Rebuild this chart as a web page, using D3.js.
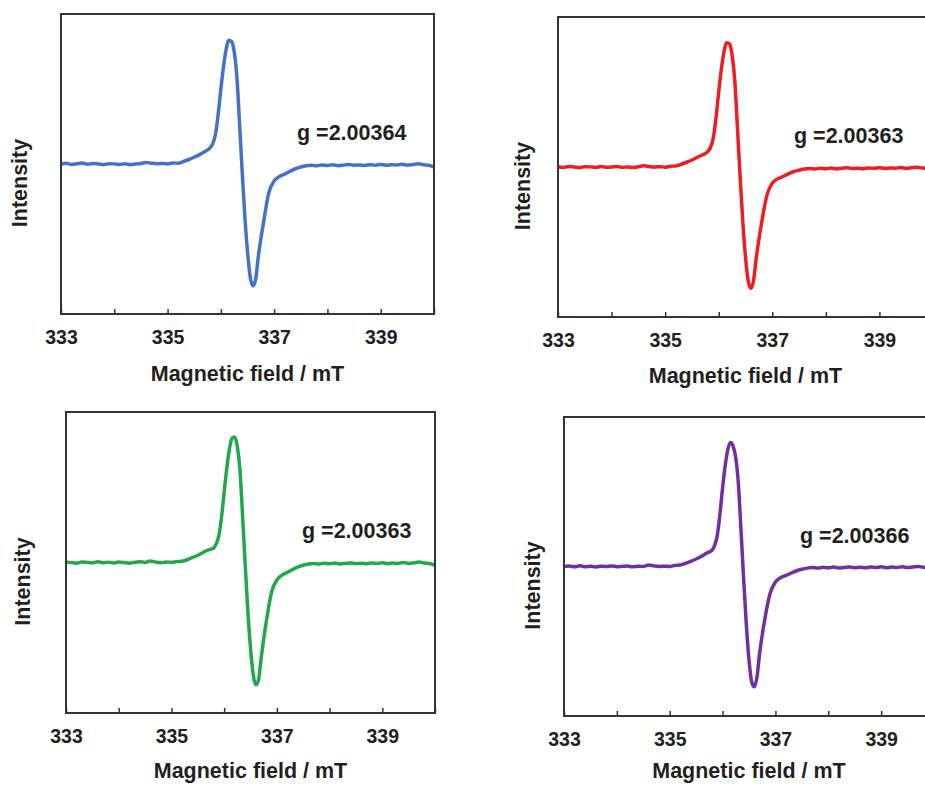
<!DOCTYPE html>
<html>
<head>
<meta charset="utf-8">
<script src="https://cdn.jsdelivr.net/npm/d3@7"></script>
<style>
  body { margin: 0; background: #fff; }
  svg text { font-family: "Liberation Sans", Arial, sans-serif; font-weight: bold; fill: #231f20; }
</style>
</head>
<body>
<svg id="eprSvg" width="925" height="785"></svg>
<script>
// magnetic field (mT), shared by all four spectra
const field = [
  333.0, 333.1, 333.2, 333.3, 333.4, 333.5, 333.6, 333.7, 333.8, 333.9,
  334.0, 334.1, 334.2, 334.3, 334.4, 334.5, 334.6, 334.7, 334.8, 334.9,
  335.0, 335.1, 335.2, 335.3, 335.4, 335.5, 335.6, 335.7,
  335.8, 335.85, 335.9, 335.95, 336.0, 336.05, 336.1, 336.15, 336.2, 336.25,
  336.3, 336.35, 336.4, 336.45, 336.5, 336.55, 336.6, 336.65, 336.7, 336.75, 336.8,
  336.9, 337.0, 337.1, 337.2, 337.3, 337.4, 337.5, 337.6, 337.7, 337.8, 337.9,
  338.0, 338.1, 338.2, 338.3, 338.4, 338.5, 338.6, 338.7, 338.8, 338.9,
  339.0, 339.1, 339.2, 339.3, 339.4, 339.5, 339.6, 339.7, 339.8, 339.9, 340.0
];

// first-derivative EPR signal, baseline = 0, arbitrary units
const blueSignal = [
  0.000, 0.006, -0.004, 0.002, 0.008, -0.002, 0.004, 0.000, -0.005, 0.003,
  0.001, -0.004, 0.002, -0.006, 0.000, 0.004, 0.013, 0.006, 0.002, 0.005,
  0.001, 0.008, 0.006, 0.020, 0.036, 0.054, 0.075, 0.100,
  0.130, 0.165, 0.240, 0.400, 0.600, 0.780, 0.920, 0.990, 0.980, 0.900,
  0.700, 0.330, -0.060, -0.420, -0.700, -0.900, -0.975, -0.930, -0.750, -0.600, -0.470,
  -0.230, -0.135, -0.100, -0.080, -0.058, -0.038, -0.024, -0.014, -0.010, -0.014, -0.008,
  -0.012, -0.006, -0.013, -0.009, -0.004, -0.010, -0.007, -0.012, -0.005, -0.009,
  -0.003, -0.010, -0.006, -0.008, -0.002, -0.009, -0.004, 0.002, -0.006, -0.010, -0.025
];
const redSignal = [
  0.002, -0.004, 0.005, 0.000, -0.006, 0.003, 0.001, -0.003, 0.004, -0.002,
  0.000, 0.005, -0.003, 0.001, -0.004, 0.002, 0.010, 0.004, 0.000, 0.003,
  -0.001, 0.006, 0.008, 0.022, 0.038, 0.056, 0.078, 0.098,
  0.125, 0.160, 0.235, 0.395, 0.600, 0.785, 0.925, 0.995, 0.985, 0.895,
  0.690, 0.310, -0.080, -0.440, -0.720, -0.910, -0.970, -0.910, -0.730, -0.580, -0.450,
  -0.225, -0.130, -0.095, -0.076, -0.055, -0.036, -0.026, -0.016, -0.012, -0.016, -0.010,
  -0.014, -0.008, -0.015, -0.010, -0.006, -0.012, -0.009, -0.014, -0.007, -0.011,
  -0.005, -0.012, -0.007, -0.010, -0.004, -0.011, -0.006, -0.002, -0.008, -0.010, -0.008
];
const greenSignal = [
  0.003, 0.000, -0.005, 0.004, 0.001, -0.003, 0.006, -0.001, 0.002, -0.004,
  0.003, 0.000, -0.005, 0.002, 0.006, 0.001, 0.011, 0.003, -0.002, 0.004,
  0.002, 0.007, 0.010, 0.022, 0.040, 0.058, 0.080, 0.100,
  0.115, 0.150, 0.215, 0.360, 0.560, 0.750, 0.905, 0.990, 1.000, 0.925,
  0.740, 0.370, -0.020, -0.390, -0.680, -0.890, -0.975, -0.940, -0.770, -0.610, -0.470,
  -0.235, -0.140, -0.100, -0.078, -0.056, -0.035, -0.022, -0.012, -0.008, -0.012, -0.006,
  -0.010, -0.004, -0.011, -0.007, -0.003, -0.009, -0.005, -0.010, -0.003, -0.008,
  -0.002, -0.009, -0.004, -0.007, 0.001, -0.007, -0.003, 0.003, -0.004, -0.008, -0.022
];
const purpleSignal = [
  0.000, 0.004, -0.003, 0.006, -0.001, 0.002, -0.004, 0.003, 0.000, 0.005,
  -0.002, 0.001, 0.004, -0.003, 0.002, 0.000, 0.012, 0.005, 0.001, 0.003,
  0.000, 0.009, 0.012, 0.026, 0.042, 0.060, 0.082, 0.108,
  0.130, 0.170, 0.250, 0.420, 0.630, 0.810, 0.940, 0.995, 0.965, 0.870,
  0.660, 0.280, -0.110, -0.470, -0.750, -0.925, -0.965, -0.890, -0.700, -0.550, -0.420,
  -0.215, -0.125, -0.090, -0.072, -0.052, -0.034, -0.022, -0.013, -0.009, -0.012, -0.007,
  -0.011, -0.005, -0.012, -0.008, -0.004, -0.010, -0.006, -0.011, -0.004, -0.009,
  -0.003, -0.010, -0.005, -0.008, -0.002, -0.009, -0.004, 0.001, -0.006, -0.009, -0.007
];

const gValues = ["g =2.00364", "g =2.00363", "g =2.00363", "g =2.00366"];
const tickValues = [333, 334, 335, 336, 337, 338, 339, 340];

const svg = d3.select("#eprSvg");

const panels = [
  { left: 61,  top: 14,  width: 373, height: 300, color: "#4472c4", signal: blueSignal,   g: gValues[0], yLabelDx: -41, xLabelDy: 60 },
  { left: 558, top: 17,  width: 375, height: 300, color: "#ee1d23", signal: redSignal,    g: gValues[1], yLabelDx: -35, xLabelDy: 59 },
  { left: 66,  top: 412, width: 369, height: 301, color: "#22a84b", signal: greenSignal,  g: gValues[2], yLabelDx: -43, xLabelDy: 58 },
  { left: 564, top: 417, width: 370, height: 299, color: "#7030a0", signal: purpleSignal, g: gValues[3], yLabelDx: -31, xLabelDy: 55 }
];

function renderPanel(p) {
  const g = svg.append("g").attr("transform", `translate(${p.left},${p.top})`);

  const xScale = d3.scaleLinear().domain([333, 340]).range([0, p.width]);
  const yScale = d3.scaleLinear().domain([-1.2, 1.2]).range([p.height, 0]);

  const line = d3.line()
    .x((d, i) => xScale(field[i]))
    .y(d => yScale(d))
    .curve(d3.curveMonotoneX);

  g.append("path")
    .datum(p.signal)
    .attr("fill", "none")
    .attr("stroke", p.color)
    .attr("stroke-width", 3.5)
    .attr("stroke-linejoin", "round")
    .attr("d", line);

  const xAxis = g.append("g")
    .attr("transform", `translate(0,${p.height})`)
    .call(d3.axisBottom(xScale)
      .tickValues(tickValues)
      .tickSizeInner(-5)
      .tickSizeOuter(0)
      .tickPadding(16)
      .tickFormat(d => d % 2 ? d : ""));
  xAxis.select(".domain").remove();
  xAxis.selectAll("line").attr("stroke", "#333").attr("stroke-width", 1.5);
  xAxis.selectAll("text")
    .attr("font-size", 19.5)
    .attr("font-family", "Liberation Sans, Arial, sans-serif")
    .attr("fill", "#231f20");

  g.append("rect")
    .attr("width", p.width)
    .attr("height", p.height)
    .attr("fill", "none")
    .attr("stroke", "#333")
    .attr("stroke-width", 2);

  g.append("text")
    .attr("x", p.width / 2)
    .attr("y", p.height + p.xLabelDy)
    .attr("text-anchor", "middle")
    .attr("dominant-baseline", "central")
    .attr("font-size", 21.5)
    .text("Magnetic field / mT");

  g.append("text")
    .attr("transform", `translate(${p.yLabelDx},${p.height / 2 + 19}) rotate(-90)`)
    .attr("text-anchor", "middle")
    .attr("dominant-baseline", "central")
    .attr("font-size", 21.5)
    .text("Intensity");

  g.append("text")
    .attr("x", 236)
    .attr("y", 119)
    .attr("dominant-baseline", "central")
    .attr("font-size", 21.5)
    .text(p.g);
}

panels.forEach(renderPanel);
</script>
</body>
</html>
